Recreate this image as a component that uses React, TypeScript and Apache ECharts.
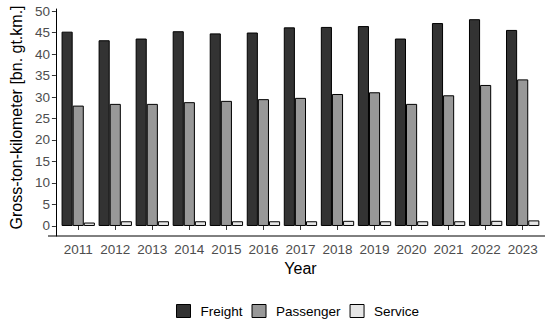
import React, { useEffect, useRef } from "react";
import * as echarts from "echarts";

const years = ["2011","2012","2013","2014","2015","2016","2017","2018","2019","2020","2021","2022","2023"];
const freight = [45.2, 43.2, 43.6, 45.3, 44.8, 45.0, 46.2, 46.3, 46.5, 43.6, 47.2, 48.1, 45.6];
const passenger = [28.0, 28.4, 28.4, 28.8, 29.1, 29.5, 29.8, 30.7, 31.1, 28.4, 30.4, 32.8, 34.1];
const service = [0.8, 1.1, 1.1, 1.1, 1.1, 1.1, 1.1, 1.2, 1.1, 1.1, 1.1, 1.2, 1.3];
const yTicks = [0, 5, 10, 15, 20, 25, 30, 35, 40, 45, 50];

const FONT = "'Liberation Sans', Arial, sans-serif";

export default function App() {
  const ref = useRef<HTMLDivElement>(null);
  useEffect(() => {
    if (!ref.current) return;
    const chart = echarts.init(ref.current, null, { renderer: "svg" });
    const mk = (name: string, data: number[], color: string) => ({
      name,
      type: "bar",
      data,
      barGap: "0%",
      barCategoryGap: "10%",
      itemStyle: { color, borderColor: "#000", borderWidth: 1 },
    });
    chart.setOption({
      animation: false,
      textStyle: { fontFamily: FONT },
      grid: { left: 51.8, right: 8.8, top: 9, bottom: 86 },
      xAxis: {
        type: "category",
        data: years,
        axisLine: { show: false },
        axisTick: { show: true, alignWithLabel: true, length: 4, lineStyle: { color: "#333", width: 1 } },
        axisLabel: { color: "#4D4D4D", fontSize: 13.5, margin: 6, interval: 0, fontFamily: FONT },
        name: "Year",
        nameLocation: "middle",
        nameGap: 24,
        nameTextStyle: { color: "#000", fontSize: 16, fontFamily: FONT },
      },
      yAxis: {
        type: "value",
        min: -2.33,
        max: 50.47,
        offset: 3.8,
        splitLine: { show: false },
        axisLine: { show: true, lineStyle: { color: "#000", width: 1 } },
        axisTick: { show: true, length: 4, customValues: yTicks, lineStyle: { color: "#333", width: 1 } },
        axisLabel: { color: "#4D4D4D", fontSize: 13.5, margin: 6, customValues: yTicks, fontFamily: FONT },
        name: "Gross-ton-kilometer [bn. gt.km.]",
        nameLocation: "middle",
        nameGap: 26,
        nameTextStyle: { color: "#000", fontSize: 16, fontFamily: FONT, padding: [0, 0, 0, 10] },
      },
      legend: {
        bottom: 4,
        left: 176,
        padding: 0,
        itemWidth: 14,
        itemHeight: 13,
        itemGap: 9,
        icon: "rect",
        textStyle: { color: "#000", fontSize: 13.5, fontFamily: FONT, padding: [0, 0, 0, 5] },
        data: [
          { name: "Freight", itemStyle: { color: "#333333", borderColor: "#000", borderWidth: 1 } },
          { name: "Passenger", itemStyle: { color: "#989898", borderColor: "#000", borderWidth: 1 } },
          { name: "Service", itemStyle: { color: "#E6E6E6", borderColor: "#000", borderWidth: 1 } },
        ],
      },
      graphic: [
        {
          type: "line",
          shape: { x1: 48, y1: 236, x2: 545, y2: 236 },
          style: { stroke: "#000", lineWidth: 1 },
        },
      ],
      series: [
        mk("Freight", freight, "#333333"),
        mk("Passenger", passenger, "#989898"),
        mk("Service", service, "#E6E6E6"),
      ],
    });
    return () => chart.dispose();
  }, []);
  return (
    <div
      ref={ref}
      style={{ position: "absolute", left: 0, top: 0, width: 550, height: 322 }}
    />
  );
}
